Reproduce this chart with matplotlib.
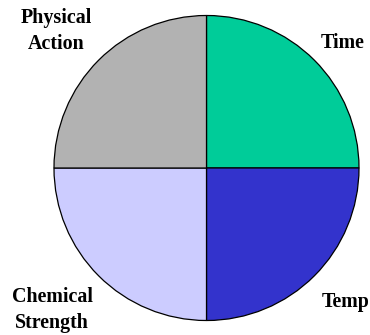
import matplotlib
matplotlib.use("Agg")
import matplotlib.pyplot as plt

categories = ["Time", "Temp", "Chemical\nStrength", "Physical\nAction"]
values = [25, 25, 25, 25]
colors = ["#00CC99", "#3333CC", "#CCCCFF", "#B2B2B2"]

W, H, DPI = 370, 335, 100
fig = plt.figure(figsize=(W / DPI, H / DPI), dpi=DPI)
ax = fig.add_axes([0, 0, 1, 1])

R = 152.5  # pie radius in pixels
cx, cy = 206.5, 168.0  # pie centre, pixels from left / top

wedges, texts = ax.pie(
    values, labels=categories, colors=colors, startangle=90, counterclock=False,
    labeldistance=1.29,
    wedgeprops=dict(edgecolor="black", linewidth=0.9),
    textprops=dict(family="Liberation Serif", fontweight="bold", fontsize=14.4,
                   ha="center", va="baseline", multialignment="center",
                   linespacing=1.42),
)

# label anchor (centre x, last-line baseline y) in pixels from left / top
label_px = [(343, 48), (345.5, 307), (52, 328), (56.5, 49)]
for t, (px, py) in zip(texts, label_px):
    t.set_position(((px - cx) / R, (cy - py) / R))

ax.set_xlim(-cx / R, (W - cx) / R)
ax.set_ylim(-(H - cy) / R, cy / R)
ax.set_aspect("auto")
ax.axis("off")

fig.savefig("out.png", dpi=DPI)
